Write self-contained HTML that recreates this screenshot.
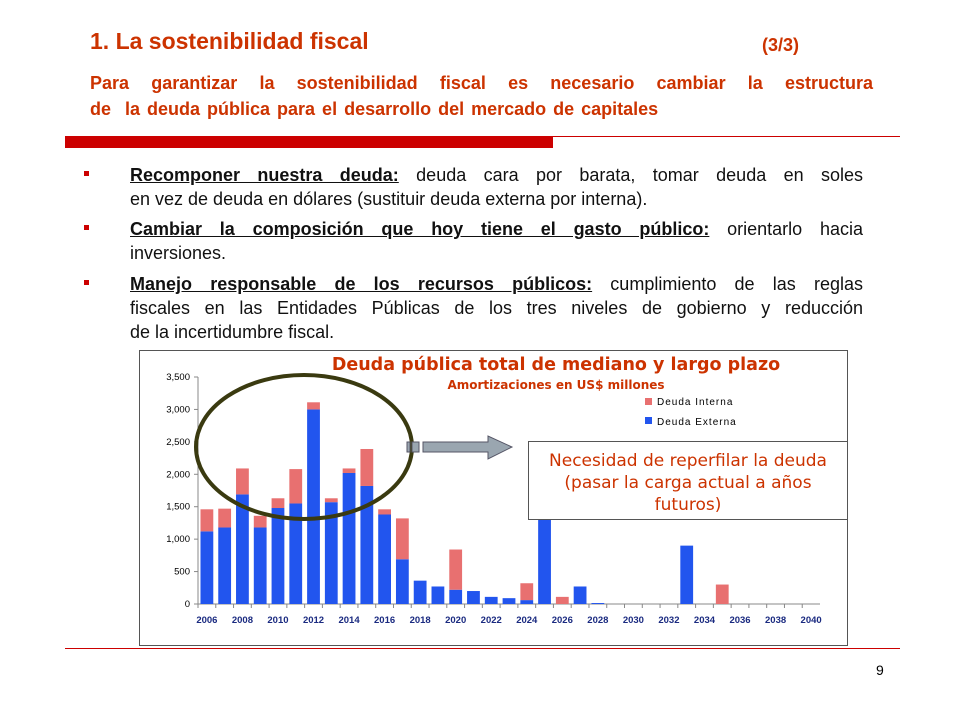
<!DOCTYPE html>
<html><head><meta charset="utf-8"><style>
body{margin:0;width:960px;height:720px;background:#fff;position:relative;overflow:hidden;font-family:"Liberation Sans","DejaVu Sans",sans-serif}
.abs{position:absolute}
.t{color:#cc3300;font-weight:bold}
.l{position:absolute;left:130px;width:733px;font-size:18px;line-height:24px;color:#111;white-space:nowrap}
.j{text-align:justify;text-align-last:justify}
.s{position:absolute;left:90px;width:783px;font-size:18px;line-height:26px;white-space:nowrap;color:#cc3300;font-weight:bold}
.sq{position:absolute;left:84px;width:5px;height:5px;background:#cc0000}
</style></head><body>
<div class="abs t" style="left:90px;top:28px;font-size:23px">1. La sostenibilidad fiscal</div>
<div class="abs t" style="left:762px;top:35px;font-size:18px">(3/3)</div>
<div class="s j" style="top:70px">Para garantizar la sostenibilidad fiscal es necesario cambiar la estructura</div>
<div class="s" style="top:96px;word-spacing:2px">de&nbsp; la deuda pública para el desarrollo del mercado de capitales</div>
<div class="abs" style="left:65px;top:136px;width:488px;height:12px;background:#cc0000"></div>
<div class="abs" style="left:553px;top:136px;width:347px;height:1px;background:#cc0000"></div>

<div class="sq" style="top:171px"></div>
<div class="l j" style="top:163px"><b><u>Recomponer nuestra deuda:</u></b> deuda cara por barata, tomar deuda en soles</div>
<div class="l" style="top:187px">en vez de deuda en dólares (sustituir deuda externa por interna).</div>
<div class="sq" style="top:225px"></div>
<div class="l j" style="top:217px"><b><u>Cambiar la composición que hoy tiene el gasto público:</u></b> orientarlo hacia</div>
<div class="l" style="top:241px">inversiones.</div>
<div class="sq" style="top:280px"></div>
<div class="l j" style="top:272px"><b><u>Manejo responsable de los recursos públicos:</u></b> cumplimiento de las reglas</div>
<div class="l j" style="top:296px">fiscales en las Entidades Públicas de los tres niveles de gobierno y reducción</div>
<div class="l" style="top:320px">de la incertidumbre fiscal.</div>

<svg class="abs" style="left:0;top:0" width="960" height="720">
<rect x="139.5" y="350.5" width="708" height="295" fill="#fff" stroke="#555"/>
<text x="556" y="370" text-anchor="middle" fill="#cc3300" font-size="17.5" font-weight="bold" font-family="DejaVu Sans">Deuda pública total de mediano y largo plazo</text>
<text x="556" y="389" text-anchor="middle" fill="#cc3300" font-size="12" font-weight="bold" font-family="DejaVu Sans">Amortizaciones en US$ millones</text>
<g id="axes"></g><g id="bars"></g>
<rect x="645" y="398" width="7" height="7" fill="#e87070"/>
<text x="657" y="405" font-size="10" letter-spacing="1">Deuda Interna</text>
<rect x="645" y="417" width="7" height="7" fill="#2255ee"/>
<text x="657" y="425" font-size="10" letter-spacing="1">Deuda Externa</text>
<ellipse cx="304" cy="447" rx="108" ry="72" fill="none" stroke="#3a3a10" stroke-width="4"/>
<g fill="#9aa6b0" stroke="#556" stroke-width="1">
<rect x="407" y="442" width="3" height="10"/><rect x="412" y="442" width="7" height="10"/>
<polygon points="423,442 488,442 488,436 512,447 488,459 488,452 423,452"/></g>
<rect x="528.5" y="441.5" width="319" height="78" fill="#fff" stroke="#555"/>
<g fill="#cc3300" font-size="17" font-family="DejaVu Sans" text-anchor="middle">
<text x="688" y="466">Necesidad de reperfilar la deuda</text>
<text x="688" y="488">(pasar la carga actual a años</text>
<text x="688" y="510">futuros)</text></g>
</svg>
<div class="abs" style="left:65px;top:648px;width:835px;height:1px;background:#cc0000"></div>
<div class="abs" style="left:876px;top:662px;font-size:14px">9</div>
<script>
const years=[];for(let y=2006;y<=2040;y++)years.push(y);
const externa=[1120,1180,1690,1180,1480,1550,3000,1570,2020,1820,1380,690,360,270,220,200,110,90,60,1400,0,270,15,0,0,0,0,900,0,0,0,0,0,0,0];
const interna=[340,290,400,180,150,530,110,60,70,570,80,630,0,0,620,0,0,0,260,0,110,0,0,0,0,0,0,0,0,300,0,0,0,0,0];
const yTicks=[0,500,1000,1500,2000,2500,3000,3500];
const NS="http://www.w3.org/2000/svg";
const x0=198,x1=820,y0=604,yMax=3500,yTop=377;
const step=(x1-x0)/years.length;
const X=i=>x0+step*(i+0.5), Y=v=>y0-(v/yMax)*(y0-yTop);
const ax=document.getElementById('axes'),bg=document.getElementById('bars');
function mk(t,a,p){const e=document.createElementNS(NS,t);for(const k in a)e.setAttribute(k,a[k]);p.appendChild(e);return e;}
const yl=mk('line',{x1:x0,y1:yTop,x2:x0,y2:y0,stroke:'#888'},ax);


const xl=mk('line',{x1:x0,y1:y0,x2:x1,y2:y0,stroke:'#888'},ax);


yTicks.forEach(v=>{
 mk('line',{x1:x0-4,y1:Y(v),x2:x0,y2:Y(v),stroke:'#888'},ax);
 const t=mk('text',{x:x0-8,y:Y(v)+3,'text-anchor':'end','font-size':'9.5'},ax);
 t.textContent=v.toLocaleString('en-US');
 
 
});
years.forEach((yr,i)=>{
 mk('line',{x1:x0+step*i,y1:y0,x2:x0+step*i,y2:y0+4,stroke:'#888'},ax);
 if(i%2===0){const t=mk('text',{x:X(i),y:y0+19,'text-anchor':'middle','font-size':'9.5','font-weight':'bold',fill:'#1a2a80'},ax);
 t.textContent=yr;
 
 }
 const w=step*0.72;
 if(externa[i]>0){const r=mk('rect',{x:X(i)-w/2,y:Y(externa[i]),width:w,height:y0-Y(externa[i]),fill:'#2255ee'},bg);
 
 }
 if(interna[i]>0){const top=Y(externa[i]+interna[i]);const r=mk('rect',{x:X(i)-w/2,y:top,width:w,height:Y(externa[i])-top,fill:'#e87070'},bg);
 
 }
});
</script>
</body></html>
